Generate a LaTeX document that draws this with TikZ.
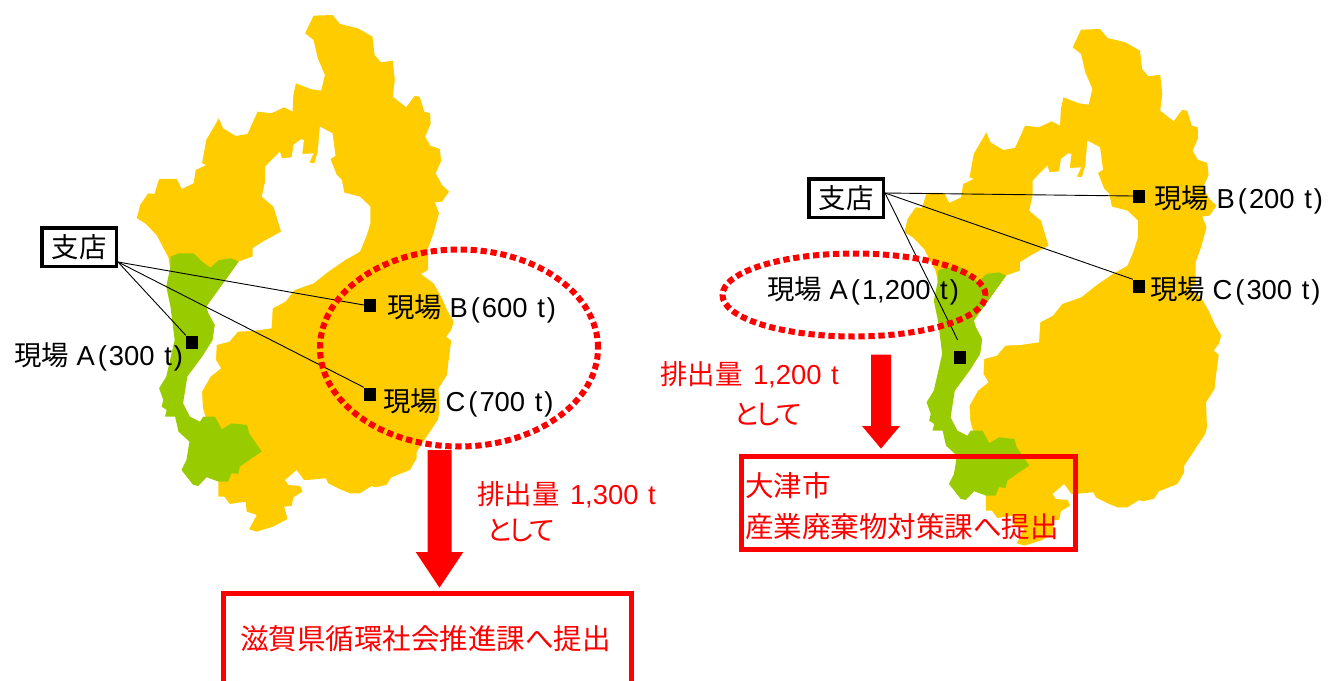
\documentclass[tikz,border=0pt]{standalone}
\usepackage{fontspec}
\usetikzlibrary{shapes.geometric}
\setmainfont{Liberation Sans}
\newfontfamily\cjk{Noto Sans CJK JP}
\definecolor{mapyellow}{HTML}{FFCC00}
\definecolor{mapgreen}{HTML}{99CC00}
\newcommand{\lpar}{\hspace{3bp}(\hspace{2bp}}
\newcommand{\rpar}{\hspace{2bp})}
\newcommand{\wsp}{\hspace{2bp} }
\newcommand{\toshite}{{\cjk と\hspace{-6.5bp}し\hspace{-6.5bp}て}}
\newcommand{\shigamap}[2]{%
\begin{scope}[shift={(#1,#2)},x=0.4209bp,y=-0.3333bp]
\fill[mapyellow] (745,47)--(790,45)--(808,72)--(850,85)--(885,110)--(890,165)--(905,187)--(933,182)--(938,240)--(933,290)--(965,322)--(985,288)--(997,290)--(1008,335)--(1022,340)--(1023,372)--(1010,410)--(1022,437)--(1045,447)--(1048,483)--(1035,520)--(1050,555)--(1067,575)--(1050,605)--(1033,607)--(1043,640)--(1030,700)--(1017,745)--(1017,810)--(1000,822)--(1030,850)--(1050,895)--(1062,930)--(1078,965)--(1072,990)--(1060,1010)--(1072,1022)--(1065,1090)--(1062,1125)--(1042,1165)--(1044,1240)--(1040,1260)--(990,1355)--(990,1375)--(974,1410)--(930,1432)--(918,1455)--(891,1462)--(883,1458)--(855,1480)--(831,1480)--(808,1468)--(780,1450)--(774,1435)--(732,1440)--(722,1440)--(705,1410)--(677,1440)--(685,1455)--(713,1458)--(719,1475)--(697,1492)--(693,1518)--(675,1520)--(683,1557)--(649,1580)--(610,1595)--(592,1588)--(610,1545)--(586,1535)--(584,1505)--(546,1512)--(533,1490)--(519,1490)--(519,1445)--(500,1300)--(430,1000)--(400,772)--(372,705)--(345,670)--(325,655)--(333,615)--(352,580)--(367,582)--(378,537)--(420,537)--(432,567)--(460,550)--(465,510)--(490,495)--(480,490)--(490,420)--(520,355)--(530,385)--(560,408)--(588,402)--(612,335)--(645,340)--(675,322)--(695,335)--(697,285)--(703,250)--(740,268)--(763,272)--(772,225)--(755,175)--(745,120)--(725,100)--cycle;
\fill[white] (760,380)--(790,400)--(797,467)--(785,477)--(800,525)--(812,540)--(818,578)--(855,590)--(880,620)--(880,670)--(870,710)--(855,755)--(820,780)--(780,815)--(745,850)--(700,870)--(678,905)--(648,925)--(645,985)--(600,993)--(565,995)--(545,1025)--(515,1035)--(513,1080)--(525,1105)--(500,1130)--(480,1175)--(483,1250)--(475,1265)--(451,1250)--(435,1210)--(445,1130)--(480,1070)--(505,1020)--(510,975)--(495,940)--(490,920)--(530,850)--(567,785)--(600,770)--(600,745)--(625,725)--(668,695)--(650,620)--(622,590)--(630,545)--(630,500)--(665,455)--(670,475)--(693,472)--(697,435)--(715,418)--(722,420)--(718,462)--(745,460)--(735,488)--(747,490)--(755,455)--cycle;
\fill[mapgreen] (405,770)--(425,760)--(460,760)--(480,785)--(500,803)--(520,780)--(550,775)--(567,785)--(530,850)--(490,920)--(495,940)--(510,975)--(505,1020)--(480,1070)--(445,1130)--(435,1210)--(451,1250)--(475,1265)--(483,1250)--(511,1250)--(527,1288)--(550,1270)--(587,1275)--(592,1300)--(622,1355)--(598,1375)--(570,1400)--(566,1422)--(550,1420)--(542,1445)--(519,1445)--(491,1432)--(471,1458)--(459,1455)--(431,1410)--(443,1380)--(450,1325)--(424,1295)--(416,1250)--(392,1250)--(396,1230)--(384,1220)--(388,1200)--(378,1165)--(395,1130)--(415,1020)--(405,920)--(395,860)--(405,800)--cycle;
\end{scope}}
\tikzset{
  txt/.style={anchor=west,inner sep=0pt,yshift=-1.5bp,font=\fontsize{27.5}{32}\selectfont},
  redtxt/.style={txt,text=red},
  bigred/.style={anchor=west,inner sep=0pt,yshift=-1bp,text=red,font=\fontsize{28.6}{34}\selectfont},
  branch/.style={draw=black,line width=3.5bp,fill=white,minimum width=74.5bp,minimum height=38.5bp,inner sep=0pt,font=\fontsize{27.5}{32}\selectfont},
  site/.style={fill=black,minimum width=12bp,minimum height=13bp,inner sep=0pt},
  link/.style={draw=black,line width=0.9bp},
  ring/.style={draw=red,line width=6bp,dash pattern=on 6.3bp off 3.7bp},
  redbox/.style={draw=red,line width=5bp,fill=none},
  bigarrow/.style={fill=red}
}
\begin{document}
\begin{tikzpicture}[x=1bp,y=-1bp]
\clip (0,0) rectangle (1328,680);
\shigamap{0}{0}
\shigamap{767.5}{14}
% left panel
\node[site] (mA) at (192,342) {};
\node[site] (mB) at (370,305) {};
\node[site] (mC) at (370,394) {};
\node[branch] (bL) at (79,247) {\cjk 支店};
\coordinate (oL) at (118,262);
\draw[link] (oL) -- (mA.north west);
\draw[link] (oL) -- (mB.west);
\draw[link] (oL) -- (mC.north west);
\node[txt] (tA) at (14,355) {{\cjk 現場} A\lpar 300\wsp t\rpar};
\node[txt] (tB) at (387,307) {{\cjk 現場} B\lpar 600\wsp t\rpar};
\node[txt] (tC) at (383,401) {{\cjk 現場} C\lpar 700\wsp t\rpar};
\node[ring,ellipse,minimum width=278bp,minimum height=197bp,inner sep=0pt] (rL) at (459,348) {};
\fill[bigarrow] (427.7,450)--(451.7,450)--(451.7,552)--(463.3,552)--(439.5,587.7)--(415.7,552)--(427.7,552)--cycle;
\node[redtxt] (rt1) at (477,493) {{\cjk 排出量} \hspace{3bp}1,300\wsp t};
\node[redtxt] (rt2) at (486,529) {\toshite};
\node[redbox,minimum width=408bp,minimum height=110bp,inner sep=0pt] (boxL) at (427,648) {};
\node[bigred] (bt1) at (240,638) {\cjk 滋賀県循環社会推進課へ提出};
% right panel
\node[site] (mA2) at (960,357) {};
\node[site] (mB2) at (1139,196) {};
\node[site] (mC2) at (1139,286) {};
\node[branch] (bR) at (846,198) {\cjk 支店};
\coordinate (oR) at (885,193);
\coordinate (eA2) at (957.7,340);
\draw[link] (oR) -- (eA2);
\draw[link] (oR) -- (mB2.west);
\draw[link] (oR) -- (mC2.north west);
\node[txt] (tA2) at (767,289) {{\cjk 現場} A\lpar 1,200\wsp t\rpar};
\node[txt] (tB2) at (1154,198) {{\cjk 現場} B\lpar 200\wsp t\rpar};
\node[txt] (tC2) at (1150,289) {{\cjk 現場} C\lpar 300\wsp t\rpar};
\node[ring,ellipse,minimum width=263bp,minimum height=83bp,inner sep=0pt] (rR) at (854,295) {};
\fill[bigarrow] (871,354.6)--(891,354.6)--(891,426)--(900,426)--(881,448.6)--(862,426)--(871,426)--cycle;
\node[redtxt] (rt3) at (660,373) {{\cjk 排出量} \hspace{3bp}1,200\wsp t};
\node[redtxt] (rt4) at (733,413) {\toshite};
\node[redbox,minimum width=334bp,minimum height=93bp,inner sep=0pt] (boxR) at (908,503) {};
\node[bigred] (bt2) at (745,485) {\cjk 大津市};
\node[bigred] (bt3) at (745,526) {\cjk 産業廃棄物対策課へ提出};
\end{tikzpicture}
\end{document}
